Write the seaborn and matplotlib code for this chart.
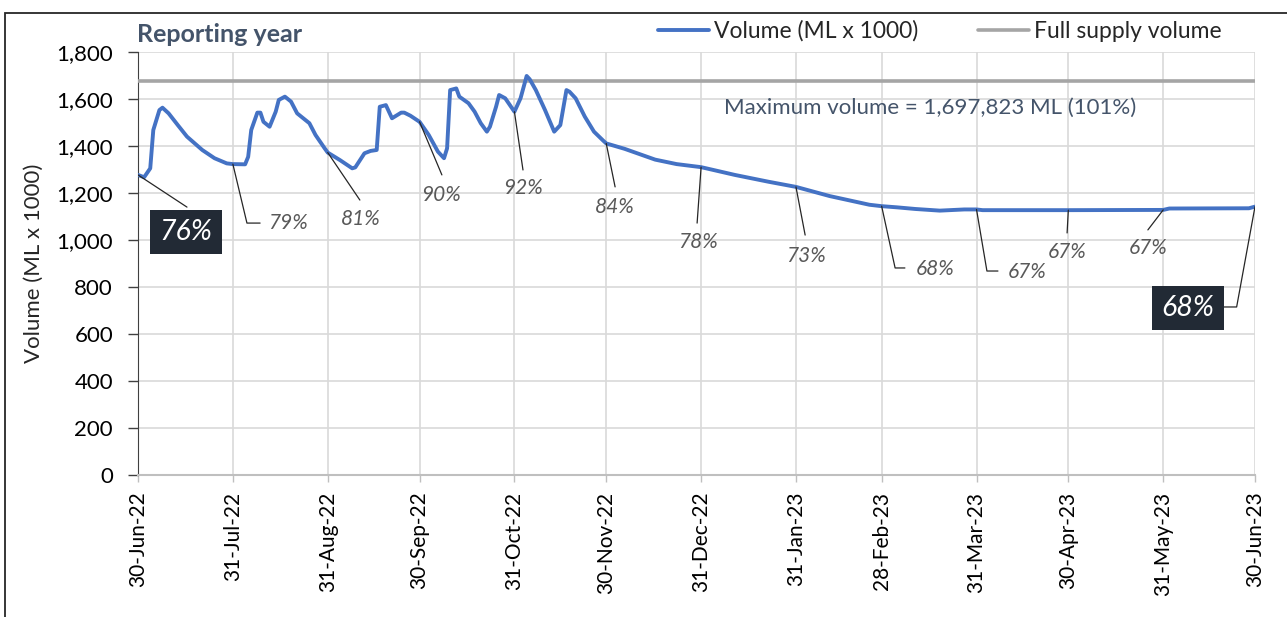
import pandas as pd
import matplotlib
matplotlib.use('Agg')
import matplotlib.pyplot as plt
import matplotlib.dates as mdates
from matplotlib.patches import Rectangle
from matplotlib.ticker import FuncFormatter
import seaborn as sns

# Storage volume (ML x 1000)
dates = ['2022-06-30', '2022-07-02', '2022-07-04', '2022-07-05', '2022-07-07', '2022-07-08',
         '2022-07-10', '2022-07-13', '2022-07-16', '2022-07-21', '2022-07-25', '2022-07-29',
         '2022-07-31', '2022-08-04', '2022-08-05', '2022-08-06', '2022-08-08', '2022-08-09',
         '2022-08-10', '2022-08-12', '2022-08-14', '2022-08-15', '2022-08-17', '2022-08-19',
         '2022-08-21', '2022-08-25', '2022-08-27', '2022-08-30', '2022-08-31', '2022-09-04',
         '2022-09-08', '2022-09-09', '2022-09-12', '2022-09-14', '2022-09-16', '2022-09-17',
         '2022-09-19', '2022-09-21', '2022-09-24', '2022-09-25', '2022-09-27', '2022-09-30',
         '2022-10-03', '2022-10-06', '2022-10-08', '2022-10-09', '2022-10-10', '2022-10-12',
         '2022-10-13', '2022-10-16', '2022-10-18', '2022-10-20', '2022-10-22', '2022-10-23',
         '2022-10-25', '2022-10-26', '2022-10-28', '2022-10-31', '2022-11-02', '2022-11-04',
         '2022-11-05', '2022-11-07', '2022-11-10', '2022-11-13', '2022-11-15', '2022-11-17',
         '2022-11-18', '2022-11-20', '2022-11-23', '2022-11-26', '2022-11-29', '2022-11-30',
         '2022-12-06', '2022-12-16', '2022-12-23', '2022-12-31', '2023-01-11', '2023-01-22',
         '2023-01-31', '2023-02-11', '2023-02-24', '2023-02-28', '2023-03-05', '2023-03-11',
         '2023-03-19', '2023-03-27', '2023-03-31', '2023-04-02', '2023-04-30', '2023-05-31',
         '2023-06-02', '2023-06-28', '2023-06-30']
volume = [1277, 1267, 1305, 1468, 1553, 1563,
          1539, 1489, 1440, 1383, 1348, 1326,
          1323, 1322, 1354, 1468, 1542, 1542,
          1503, 1482, 1546, 1596, 1610, 1589,
          1539, 1497, 1447, 1390, 1372, 1340,
          1305, 1309, 1369, 1379, 1383, 1567,
          1574, 1518, 1542, 1542, 1529, 1503,
          1447, 1376, 1348, 1390, 1638, 1645,
          1610, 1582, 1546, 1497, 1461, 1482,
          1567, 1617, 1603, 1546, 1603, 1698,
          1684, 1638, 1553, 1461, 1489, 1638,
          1631, 1603, 1525, 1461, 1423, 1411,
          1388, 1342, 1323, 1310, 1277, 1248,
          1226, 1187, 1150, 1144, 1139, 1132,
          1125, 1130, 1130, 1127, 1127, 1128,
          1134, 1135, 1142]
full_supply = 1677

tick_dates = ['2022-06-30', '2022-07-31', '2022-08-31', '2022-09-30', '2022-10-31',
              '2022-11-30', '2022-12-31', '2023-01-31', '2023-02-28', '2023-03-31',
              '2023-04-30', '2023-05-31', '2023-06-30']
pct_labels = ['76%', '79%', '81%', '90%', '92%', '84%', '78%', '73%',
              '68%', '67%', '67%', '67%', '68%']
max_text = 'Maximum volume = 1,697,823 ML (101%)'

df = pd.DataFrame({'date': pd.to_datetime(dates), 'volume': volume})
start = pd.Timestamp('2022-06-30')

sns.set_style('white')
plt.rcParams['font.family'] = ['Lato', 'DejaVu Sans']

fig = plt.figure(figsize=(12.87, 6.17), dpi=100)
ax = fig.add_axes([138 / 1287, 1 - 475 / 617, (1255 - 138) / 1287, 423 / 617])

sns.lineplot(data=df, x='date', y='volume', ax=ax, color='#4472c4', lw=2.8,
             label='Volume (ML x 1000)', zorder=4, solid_joinstyle='round',
             solid_capstyle='round')
ax.axhline(full_supply, color='#a5a5a5', lw=2.6, label='Full supply volume', zorder=3)

ax.set_xlim(start, pd.Timestamp('2023-06-30'))
ax.set_ylim(0, 1800)
ax.set_yticks(range(0, 1801, 200))
ax.yaxis.set_major_formatter(FuncFormatter(lambda v, p: f'{int(v):,}'))
ax.set_xticks(pd.to_datetime(tick_dates))
ax.xaxis.set_major_formatter(mdates.DateFormatter('%d-%b-%y'))
plt.setp(ax.get_xticklabels(), rotation=90)
ax.tick_params(axis='both', colors='#000000')
ax.tick_params(axis='y', labelsize=16, length=7, width=1, color='#404040', pad=11, left=True)
ax.tick_params(axis='x', labelsize=15, length=5, width=1, color='#bfbfbf', pad=7, bottom=True)
ax.grid(True, color='#d9d9d9', lw=1.2)
ax.set_axisbelow(True)
for s in ['top', 'right']:
    ax.spines[s].set_visible(False)
ax.spines['left'].set_color('#404040')
ax.spines['bottom'].set_color('#bfbfbf')
ax.spines['bottom'].set_linewidth(1.5)
ax.set_xlabel('')
ax.set_ylabel('Volume (ML x 1000)', fontsize=16, labelpad=9)

# annotations: (text day, text value, leader points as (day, value) after the anchor, boxed)
layout = [
    (15.7, 1034, [(16, 1140)], True),
    (49, 1072, [(35.6, 1072), (39.9, 1072)], False),
    (72.9, 1089, [(72.5, 1170)], False),
    (99, 1191, [(99.3, 1277)], False),
    (125.8, 1221, [(125.8, 1298)], False),
    (155.9, 1140, [(155.9, 1226)], False),
    (183, 991, [(182.7, 1072)], False),
    (218.3, 932, [(218, 1021)], False),
    (260.4, 877, [(247.4, 881), (250.6, 881)], False),
    (290.5, 864, [(277.4, 868), (281, 868)], False),
    (303.6, 949, [(303.6, 1030)], False),
    (330, 966, [(330, 1043)], False),
    (343, 711, [(359, 715), (354.5, 715)], True),
]
vol_by_date = dict(zip(df['date'], df['volume']))
for td, lab, (tx, ty, pts, boxed) in zip(tick_dates, pct_labels, layout):
    d0 = pd.Timestamp(td)
    xs = [d0] + [start + pd.Timedelta(days=p[0]) for p in pts]
    ys = [vol_by_date[d0]] + [p[1] for p in pts]
    ax.plot(xs, ys, color='#262626', lw=0.9, zorder=5)
    tpos = start + pd.Timedelta(days=tx)
    if boxed:
        ax.text(tpos, ty, lab, ha='center', va='center', fontsize=20.5, style='italic',
                color='white', zorder=6,
                bbox=dict(boxstyle='square,pad=0.33', fc='#222a35', ec='none'))
    else:
        ax.text(tpos, ty, lab, ha='center', va='center', fontsize=15, style='italic',
                color='#595959', zorder=6)

ax.text(start + pd.Timedelta(days=259), 1562, max_text, ha='center', va='center',
        fontsize=16, color='#44546a')

fig.text(137 / 1287, 1 - 35 / 617, 'Reporting year', ha='left', va='center',
         fontsize=18, fontweight='bold', color='#44546a')

ax.get_legend().remove()
h, l = ax.get_legend_handles_labels()
fig.legend(h, l, loc='center', bbox_to_anchor=(940 / 1287, 1 - 31 / 617), ncol=2,
           frameon=False, fontsize=16.5, handlelength=2.2, handletextpad=0.25,
           columnspacing=2.6)

fig.patches.append(Rectangle((5 / 1287, -0.02), 1.1, 1 - 12.5 / 617 + 0.02,
                             transform=fig.transFigure, fill=False, ec='#262626', lw=1.3))

fig.savefig('out.png', dpi=100)
